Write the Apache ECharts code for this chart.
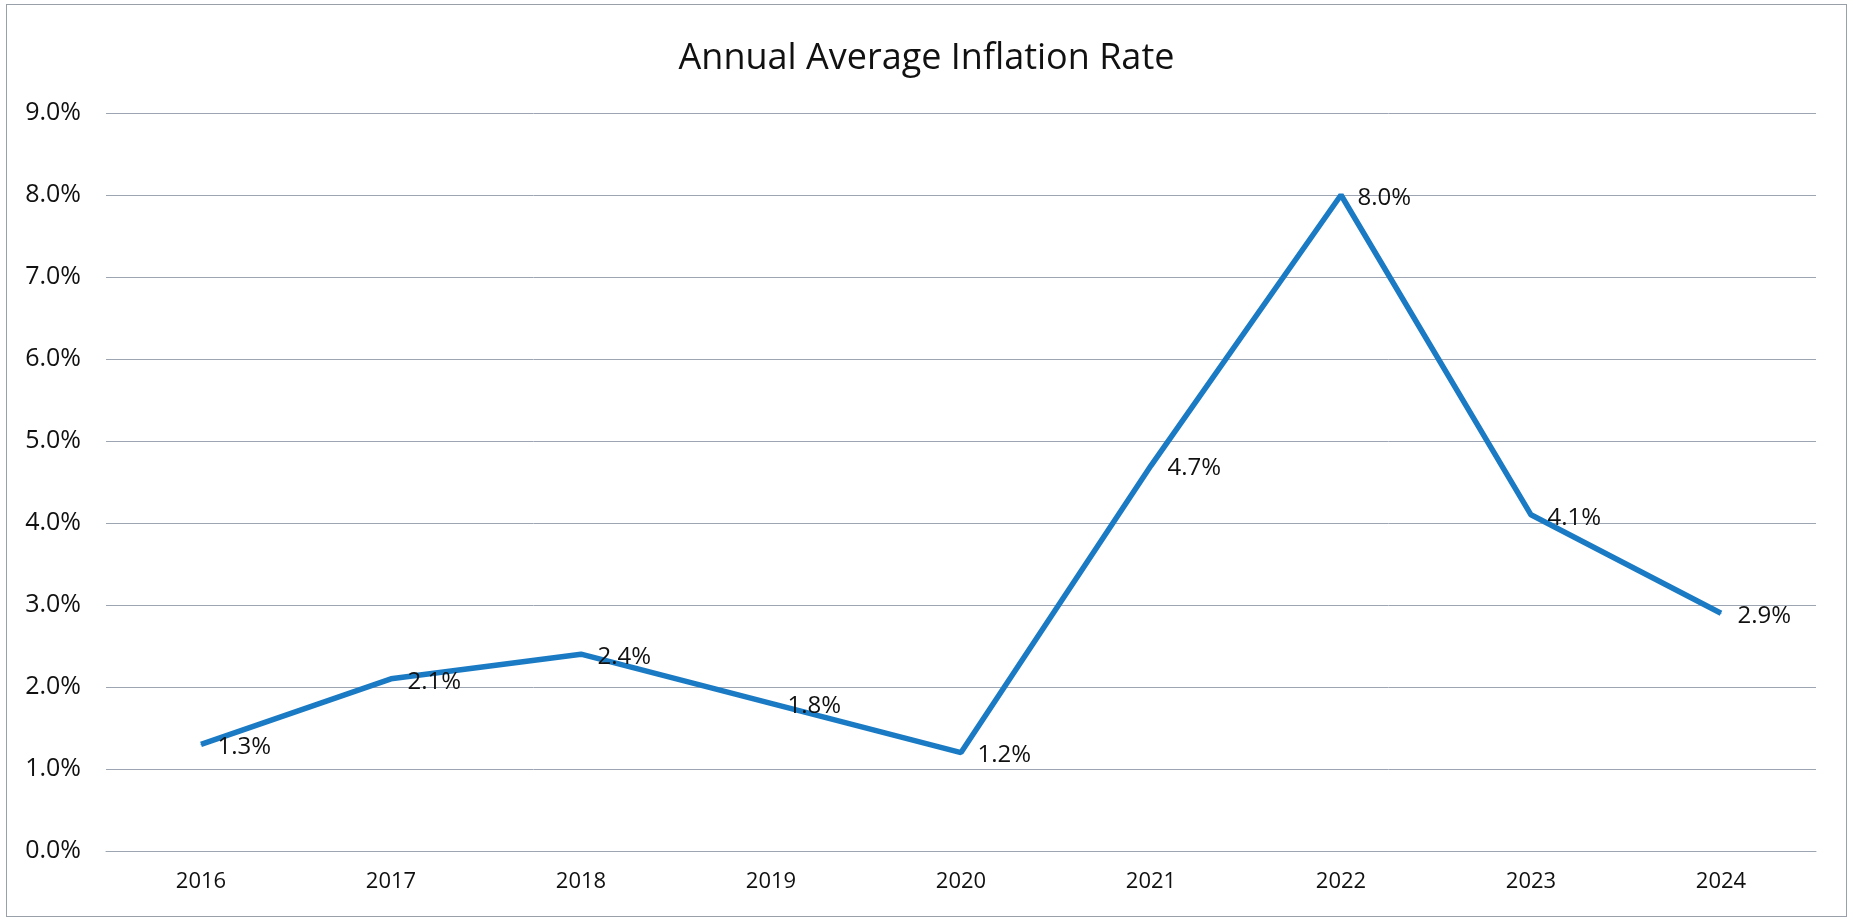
<!DOCTYPE html>
<html>
<head>
<meta charset="utf-8">
<script src="https://cdn.jsdelivr.net/npm/echarts@6/dist/echarts.min.js"></script>
<style>
  html, body { margin: 0; padding: 0; background: #ffffff; }
  #chart { width: 1853px; height: 922px; }
  .frame {
    position: absolute;
    left: 6px; top: 4px; right: 6px; bottom: 5px;
    border: 1px solid #9aa0a8;
    pointer-events: none;
  }
</style>
</head>
<body>
<div id="chart"></div>
<div class="frame"></div>
<script>
const years = ['2016', '2017', '2018', '2019', '2020', '2021', '2022', '2023', '2024']
const inflation = [1.3, 2.1, 2.4, 1.8, 1.2, 4.7, 8.0, 4.1, 2.9]
const yTicks = { min: 0, max: 9, step: 1 }

const chart = echarts.init(document.getElementById('chart'))
chart.setOption({
  animation: false,
  textStyle: { fontFamily: 'Open Sans' },
  title: {
    text: 'Annual Average Inflation Rate',
    left: 'center',
    top: 36,
    textStyle: { fontSize: 36, fontWeight: 'normal', color: '#111111', fontFamily: 'Open Sans' }
  },
  grid: { left: 106, right: 37, top: 113, bottom: 71 },
  xAxis: {
    type: 'category',
    data: years,
    boundaryGap: true,
    axisLine: { show: true, lineStyle: { color: '#9ea5b2', width: 1 } },
    axisTick: { show: false },
    axisLabel: { fontSize: 22, color: '#111111', margin: 20 }
  },
  yAxis: {
    type: 'value',
    min: yTicks.min,
    max: yTicks.max,
    interval: yTicks.step,
    axisLine: { show: false },
    axisTick: { show: false },
    axisLabel: {
      fontSize: 25,
      color: '#111111',
      margin: 25,
      formatter: v => v.toFixed(1) + '%'
    },
    splitLine: { lineStyle: { color: '#9ea5b2', width: 1 } }
  },
  series: [{
    type: 'line',
    data: inflation,
    symbol: 'circle',
    symbolSize: 1,
    showSymbol: true,
    itemStyle: { color: '#1a7bc4' },
    lineStyle: { color: '#1a7bc4', width: 5.5 },
    label: {
      show: true,
      position: 'right',
      distance: 16,
      offset: [0, 3],
      fontSize: 24,
      color: '#111111',
      formatter: p => p.value.toFixed(1) + '%'
    }
  }]
})
</script>
</body>
</html>
